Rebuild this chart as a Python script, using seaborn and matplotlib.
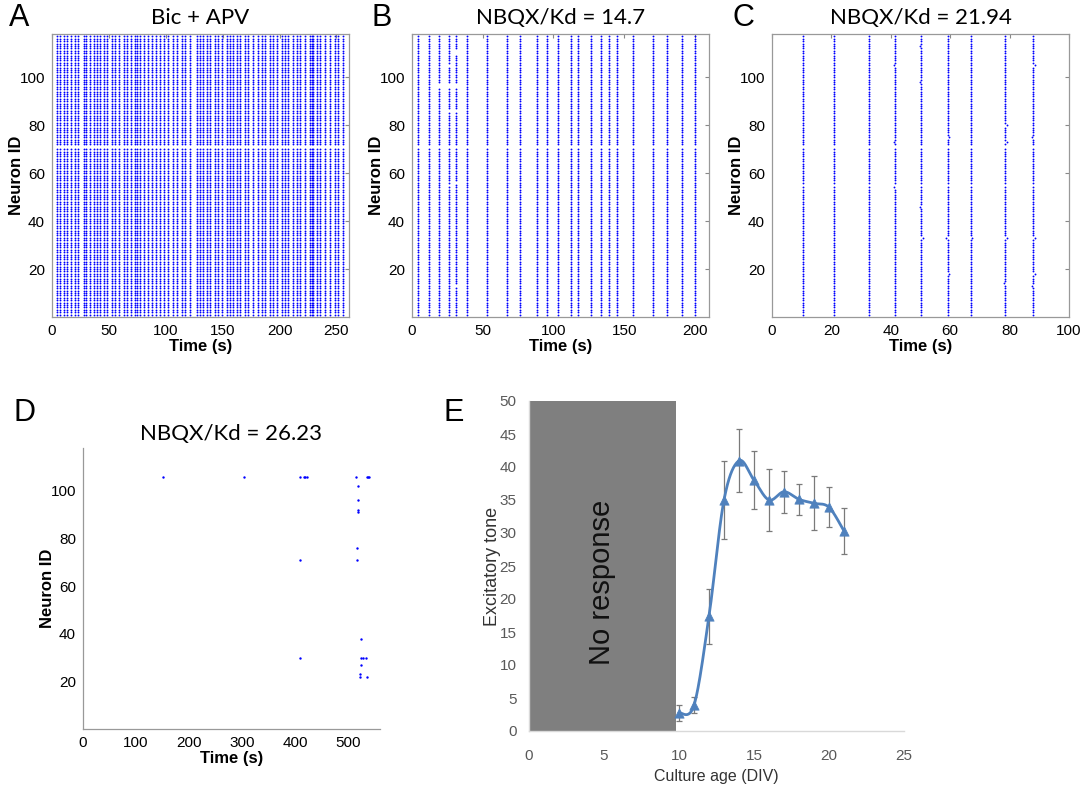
import numpy as np
import pandas as pd
import matplotlib
matplotlib.use("Agg")
import matplotlib.pyplot as plt
import seaborn as sns

sns.set_style("white")
plt.rcParams['font.family'] = ['Liberation Sans', 'DejaVu Sans']
plt.rcParams['text.color'] = 'black'
plt.rcParams['axes.labelcolor'] = 'black'

# ---------------- data ----------------
n_neurons = 117
silent_A = [71]
silent_B = [71]
silent_C = [55, 71]

bursts_A = [4.4, 7.3, 10.2, 13.2, 17.0, 20.5, 22.8, 27.8, 30.1, 33.0, 36.5, 39.5,
            42.4, 45.9, 48.2, 52.6, 55.6, 58.5, 62.9, 65.8, 69.6, 73.1, 74.6, 77.5,
            81.0, 84.8, 87.7, 91.5, 95.0, 98.8, 102.3, 106.7, 109.6, 114.0, 117.0,
            121.3, 127.2, 130.1, 133.0, 136.0, 138.9, 143.3, 146.2, 149.1, 153.5,
            156.4, 159.4, 162.9, 165.2, 169.6, 172.5, 176.9, 181.3, 184.2, 187.1,
            191.5, 194.4, 197.4, 201.8, 204.7, 207.6, 212.0, 214.9, 217.8, 222.2,
            226.6, 228.1, 229.5, 232.5, 235.4, 239.8, 244.2, 248.5, 251.5, 255.8]

bursts_B = [4.0, 11.8, 19.4, 26.1, 30.8, 39.1, 52.8, 67.5, 76.5, 88.1, 95.3, 103.1,
            112.1, 117.5, 126.3, 133.4, 139.1, 145.3, 156.4, 170.1, 180.1, 190.8, 200.2]
# neurons missing from individual bursts in B
gaps_B = {19.4: [96, 97], 26.1: [55, 86, 96, 97, 105], 30.8: [13, 56, 86, 96, 97, 110, 111]}

bursts_C = [10.4, 21.0, 32.5, 41.5, 50.3, 59.1, 66.9, 78.6, 88.0]
# (burst, neuron, shifted time) for visibly displaced spikes in C
shifts_C = [(41.5, 105, 41.0), (41.5, 73, 41.0), (41.5, 54, 41.0),
            (50.3, 113, 49.8), (50.3, 98, 49.8), (50.3, 46, 49.8), (50.3, 33, 50.8),
            (59.1, 75, 59.7), (59.1, 33, 58.6), (59.1, 18, 59.6),
            (66.9, 33, 67.5), (78.6, 80, 79.1), (78.6, 73, 79.1), (78.6, 33, 79.1),
            (78.6, 14, 78.1), (88.0, 105, 88.6), (88.0, 75, 87.5), (88.0, 33, 88.6),
            (88.0, 18, 88.6), (88.0, 13, 87.5), (88.0, 55, 88.6)]

spikes_D_t = [151.6, 303.8, 408.8, 416.0, 419.0, 422.0, 515.0, 534.6, 537.0, 539.6,
              517.6, 518.9, 519.0, 519.0, 517.0, 515.7, 408.8, 523.3, 408.8, 523.9,
              527.7, 533.3, 523.3, 523.0, 523.0, 534.6]
spikes_D_id = [106, 106, 106, 106, 106, 106, 106, 106, 106, 106,
               102, 96, 92, 91, 76, 71, 71, 38, 30, 30,
               30, 30, 27, 23, 22, 22]

div = [10, 11, 12, 13, 14, 15, 16, 17, 18, 19, 20, 21]
tone = [2.75, 3.9, 17.4, 35.0, 40.95, 38.0, 35.0, 36.25, 35.1, 34.5, 33.9, 30.3]
tone_err = [1.2, 1.2, 4.15, 5.9, 4.75, 4.35, 4.75, 3.2, 2.35, 4.1, 3.0, 3.5]
no_response_end = 9.78

titles = ["Bic + APV", "NBQX/Kd = 14.7", "NBQX/Kd = 21.94", "NBQX/Kd = 26.23"]

# ---------------- helpers ----------------
W, H = 1084, 788
fig = plt.figure(figsize=(W / 100, H / 100), dpi=100)


def add_ax(l, t, r, b):
    return fig.add_axes([l / W, 1 - b / H, (r - l) / W, (b - t) / H])


def raster_frame(bursts, silent, gaps=None, shifts=None):
    rows = []
    shift_map = {}
    for bt, nid, nt in (shifts or []):
        shift_map[(bt, nid)] = nt
    for bt in bursts:
        missing = set(silent) | set((gaps or {}).get(bt, []))
        for nid in range(1, n_neurons + 1):
            if nid in missing:
                continue
            rows.append((shift_map.get((bt, nid), bt), nid))
    return pd.DataFrame(rows, columns=["t", "id"])


def style_raster(ax, xlim, xticks, box=True):
    ax.set_xlim(*xlim)
    ax.set_ylim(0, 118)
    ax.set_xticks(xticks)
    ax.set_yticks([20, 40, 60, 80, 100])
    ax.tick_params(direction="in", length=3, width=0.8, color="#888888",
                   labelsize=11, labelcolor="black", pad=5, top=box, right=box)
    for s, sp in ax.spines.items():
        sp.set_color("#999999")
        sp.set_linewidth(0.9)
        if not box and s in ("top", "right"):
            sp.set_visible(False)
    ax.set_xlabel("Time (s)", fontsize=12, fontweight="bold", color="black")
    ax.set_ylabel("Neuron ID", fontsize=12, fontweight="bold", color="black")
    ax.xaxis.set_label_coords(0.5, -0.078)
    ax.yaxis.set_label_coords(-0.093, 0.5)


def panel_letter(x, y, s):
    fig.text(x / W, 1 - y / H, s, fontsize=22, ha="left", va="top", color="black")


title_font = dict(family=["Lato", "DejaVu Sans"], fontsize=16, color="black")

# ---------------- A, B, C ----------------
specs = [
    (bursts_A, silent_A, None, None, (52, 34, 349, 317), (0, 261), [0, 50, 100, 150, 200, 250]),
    (bursts_B, silent_B, gaps_B, None, (412, 34, 709, 317), (0, 210), [0, 50, 100, 150, 200]),
    (bursts_C, silent_C, None, shifts_C, (772, 34, 1069, 317), (0, 100), [0, 20, 40, 60, 80, 100]),
]
letters = [("A", 9, 3), ("B", 371, 3), ("C", 733, 3)]
for i, (bursts, silent, gaps, shifts, rect, xlim, xticks) in enumerate(specs):
    ax = add_ax(*rect)
    df = raster_frame(bursts, silent, gaps, shifts)
    sns.scatterplot(data=df, x="t", y="id", ax=ax, color="#0000ff", s=1.8,
                    marker="o", linewidth=0, legend=False)
    style_raster(ax, xlim, xticks, box=True)
    ax.set_title(titles[i], pad=7, **title_font)
    panel_letter(letters[i][1], letters[i][2], letters[i][0])

# ---------------- D ----------------
axD = add_ax(83, 448, 380, 729)
dfD = pd.DataFrame({"t": spikes_D_t, "id": spikes_D_id})
sns.scatterplot(data=dfD, x="t", y="id", ax=axD, color="#0000ff", s=3,
                marker="o", linewidth=0, legend=False)
style_raster(axD, (0, 560), [0, 100, 200, 300, 400, 500], box=False)
axD.set_title(titles[3], pad=6, **title_font)
panel_letter(14, 398, "D")

# ---------------- E ----------------
axE = add_ax(529, 401, 904, 731)
axE.axvspan(0, no_response_end, color="#7f7f7f", zorder=0, linewidth=0)
axE.text(4.9, 22.5, "No response", rotation=90, ha="center", va="center",
         fontsize=21, color="#111111")


def catmull_rom(x, y, n=30):
    P = np.column_stack([x, y]).astype(float)
    P = np.vstack([P[0], P, P[-1]])
    out = []
    t = np.linspace(0, 1, n, endpoint=False)[:, None]
    for i in range(1, len(P) - 2):
        p0, p1, p2, p3 = P[i - 1], P[i], P[i + 1], P[i + 2]
        seg = 0.5 * (2 * p1 + (-p0 + p2) * t + (2 * p0 - 5 * p1 + 4 * p2 - p3) * t ** 2
                     + (-p0 + 3 * p1 - 3 * p2 + p3) * t ** 3)
        out.append(seg)
    out.append(P[-2][None, :])
    return np.vstack(out)


curve = catmull_rom(div, tone)
dfc = pd.DataFrame({"x": curve[:, 0], "y": curve[:, 1]})
axE.errorbar(div, tone, yerr=tone_err, fmt="none", ecolor="#7a7a7a",
             elinewidth=0.9, capsize=2.5, capthick=0.9, zorder=2)
sns.lineplot(data=dfc, x="x", y="y", ax=axE, sort=False, estimator=None,
             color="#4f81bd", linewidth=2, zorder=3)
dfE = pd.DataFrame({"div": div, "tone": tone})
sns.scatterplot(data=dfE, x="div", y="tone", ax=axE, marker="^", s=45,
                color="#4f81bd", edgecolor="#4f81bd", linewidth=0.5, zorder=4,
                legend=False)
axE.set_xlim(0, 25)
axE.set_ylim(0, 50)
axE.set_xticks([0, 5, 10, 15, 20, 25])
axE.set_yticks(list(range(0, 51, 5)))
axE.tick_params(length=0, labelsize=11, labelcolor="#595959", pad=9)
axE.tick_params(axis="x", pad=13)
for s in ("top", "right"):
    axE.spines[s].set_visible(False)
for s in ("left", "bottom"):
    axE.spines[s].set_color("#d9d9d9")
    axE.spines[s].set_linewidth(1)
axE.set_xlabel("Culture age (DIV)", fontsize=11.5, color="#333333")
axE.set_ylabel("Excitatory tone", fontsize=13, color="#333333")
axE.xaxis.set_label_coords(0.5, -0.115)
axE.yaxis.set_label_coords(-0.075, 0.5)
panel_letter(443, 398, "E")

fig.savefig("out.png", dpi=100)
